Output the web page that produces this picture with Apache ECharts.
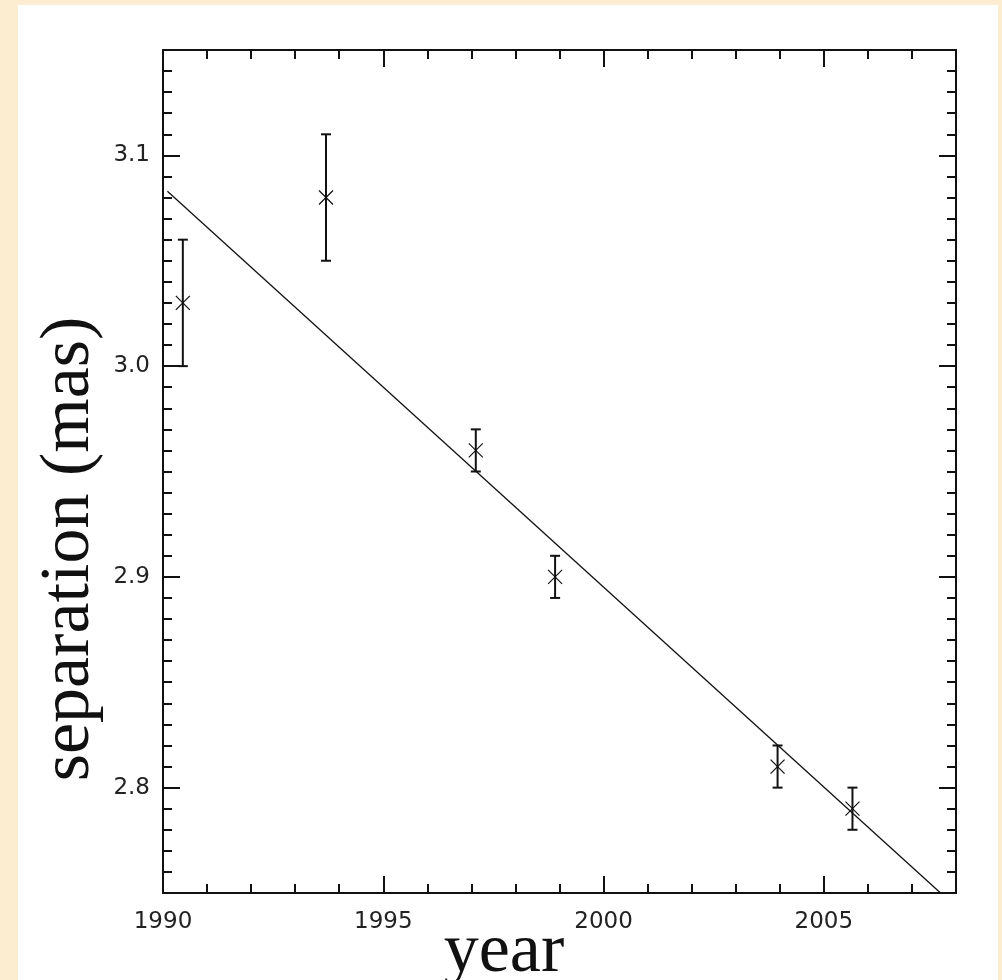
<!DOCTYPE html>
<html>
<head>
<meta charset="utf-8">
<script src="https://cdn.jsdelivr.net/npm/echarts@6/dist/echarts.min.js"></script>
<style>
  html, body { margin: 0; padding: 0; width: 1002px; height: 980px; background: #fcecd0; overflow: hidden; }
  #chart { position: absolute; left: 18px; top: 5px; width: 980px; height: 975px; background: #ffffff; }
</style>
</head>
<body>
<div id="chart"></div>
<script>
// ---- data ----
const years      = [1990.45, 1993.7, 1997.1, 1998.9, 2003.95, 2005.65];
const separation = [3.03, 3.08, 2.96, 2.90, 2.81, 2.79];
const sepError   = [0.03, 0.03, 0.01, 0.01, 0.01, 0.01];
const fitYears   = [1990.1, 2007.65];
const fitSep     = [3.083, 2.75];
const xMajorTicks = [1990, 1995, 2000, 2005];
const yMajorTicks = [2.8, 2.9, 3.0, 3.1];
const xRange = [1990, 2008];
const yRange = [2.75, 3.15];
const xMinorStep = 1;
const yMinorStep = 0.01;
const xTitle = 'year';
const yTitle = 'separation (mas)';

const xMinorTicks = [];
for (let v = xRange[0]; v <= xRange[1] + 1e-9; v += xMinorStep) xMinorTicks.push(+v.toFixed(4));
const yMinorTicks = [];
for (let k = 0; yRange[0] + k * yMinorStep <= yRange[1] + 1e-9; k++) yMinorTicks.push(+(yRange[0] + k * yMinorStep).toFixed(4));

const ink = '#111111';
const labelFont = { fontFamily: 'DejaVu Sans', fontSize: 23, color: '#222222' };

function makeAxis(kind, position, major, withLabels, withLine) {
  const isX = kind === 'x';
  const ticks = major ? (isX ? xMajorTicks : yMajorTicks) : (isX ? xMinorTicks : yMinorTicks);
  const range = isX ? xRange : yRange;
  return {
    type: 'value',
    position: position,
    min: range[0],
    max: range[1],
    splitLine: { show: false },
    axisLine: { show: withLine, onZero: false, lineStyle: { color: ink, width: 2 } },
    axisTick: {
      show: true, inside: true, customValues: ticks,
      length: major ? 17 : 9,
      lineStyle: { color: ink, width: 2 }
    },
    axisLabel: withLabels ? Object.assign({
      show: true, customValues: ticks,
      margin: isX ? 18 : 13,
      formatter: v => isX ? String(Math.round(v)) : Number(v).toFixed(1)
    }, labelFont) : { show: false },
    minorTick: { show: false }
  };
}

const chart = echarts.init(document.getElementById('chart'), null, { renderer: 'canvas' });

const pointData = years.map((yr, i) => [yr, separation[i], sepError[i]]);
const fitData = fitYears.map((yr, i) => [yr, fitSep[i]]);

chart.setOption({
  animation: false,
  backgroundColor: 'transparent',
  grid: { left: 145, top: 45, right: 42, bottom: 87, containLabel: false },
  xAxis: [
    makeAxis('x', 'bottom', true, true, true),
    makeAxis('x', 'bottom', false, false, false),
    makeAxis('x', 'top', true, false, true),
    makeAxis('x', 'top', false, false, false)
  ],
  yAxis: [
    makeAxis('y', 'left', true, true, true),
    makeAxis('y', 'left', false, false, false),
    makeAxis('y', 'right', true, false, true),
    makeAxis('y', 'right', false, false, false)
  ],
  graphic: [
    {
      type: 'text', x: 486, y: 948,
      style: { text: xTitle, font: '70px "Liberation Serif"', fill: ink, align: 'center', verticalAlign: 'middle' }
    },
    {
      type: 'text', x: 52, y: 544, rotation: Math.PI / 2,
      style: { text: yTitle, font: '70px "Liberation Serif"', fill: ink, align: 'center', verticalAlign: 'middle' }
    }
  ],
  series: [
    {
      type: 'line',
      data: fitData,
      xAxisIndex: 0, yAxisIndex: 0,
      symbol: 'none',
      clip: true,
      lineStyle: { color: ink, width: 1.3 },
      z: 3
    },
    {
      type: 'custom',
      data: pointData,
      xAxisIndex: 0, yAxisIndex: 0,
      clip: false,
      z: 4,
      renderItem: function (params, api) {
        const x = api.value(0), y = api.value(1), e = api.value(2);
        const c = api.coord([x, y]);
        const top = api.coord([x, y + e]);
        const bot = api.coord([x, y - e]);
        const cap = 5, m = 7;
        const bar = { stroke: ink, lineWidth: 2 };
        const cross = { stroke: ink, lineWidth: 1.2 };
        return {
          type: 'group',
          children: [
            { type: 'line', shape: { x1: c[0], y1: top[1], x2: c[0], y2: bot[1] }, style: bar },
            { type: 'line', shape: { x1: c[0] - cap, y1: top[1], x2: c[0] + cap, y2: top[1] }, style: bar },
            { type: 'line', shape: { x1: c[0] - cap, y1: bot[1], x2: c[0] + cap, y2: bot[1] }, style: bar },
            { type: 'line', shape: { x1: c[0] - m, y1: c[1] - m, x2: c[0] + m, y2: c[1] + m }, style: cross },
            { type: 'line', shape: { x1: c[0] - m, y1: c[1] + m, x2: c[0] + m, y2: c[1] - m }, style: cross }
          ]
        };
      }
    }
  ]
});
</script>
</body>
</html>
